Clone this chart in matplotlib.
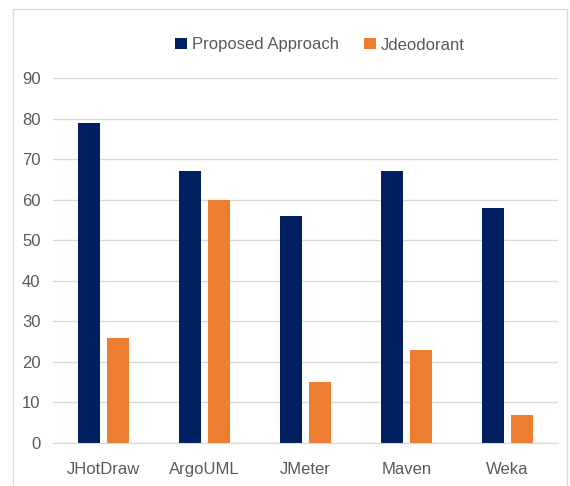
import matplotlib
matplotlib.use("Agg")
import matplotlib.pyplot as plt
import numpy as np
from matplotlib.patches import Rectangle

plt.rcParams['font.family'] = ['Liberation Sans Narrow', 'Liberation Sans', 'DejaVu Sans']

projects = ['JHotDraw', 'ArgoUML', 'JMeter', 'Maven', 'Weka']
proposed = [79, 67, 56, 67, 58]
jdeodorant = [26, 60, 15, 23, 7]

navy = '#002060'
orange = '#ED7D31'
txt = '#595959'

fig = plt.figure(figsize=(5.7, 4.86), dpi=100)
# light frame round the chart area (cut off at the bottom in the original)
fig.patches.append(Rectangle((13 / 570, -0.1), 554 / 570, 1.1 - 9 / 486, transform=fig.transFigure,
                             fill=False, edgecolor='#d9d9d9', linewidth=1))
ax = fig.add_axes([53 / 570, 43 / 486, 505 / 570, 365 / 486])

x = np.arange(len(projects))
w = 0.22
ax.bar(x - 0.14, proposed, w, color=navy, label='Proposed Approach')
ax.bar(x + 0.14, jdeodorant, w, color=orange, label='Jdeodorant')

ax.set_xlim(-0.5, 4.5)
ax.set_ylim(0, 90)
ax.set_yticks(range(0, 91, 10))
ax.set_xticks(x)
ax.set_xticklabels(projects)
ax.grid(axis='y', color='#d9d9d9', linewidth=1)
ax.set_axisbelow(True)
for s in ['top', 'right', 'left']:
    ax.spines[s].set_visible(False)
ax.spines['bottom'].set_color('#d9d9d9')
ax.tick_params(axis='both', length=0, labelsize=12, colors=txt)
ax.tick_params(axis='x', pad=14)
ax.tick_params(axis='y', pad=9)

fig.legend(loc='center', bbox_to_anchor=(320 / 570, 1 - 45 / 486), ncol=2, frameon=False,
           fontsize=12, handlelength=0.7, handleheight=0.7, handletextpad=0.3,
           columnspacing=1.5, labelcolor=txt)

fig.savefig('out.png', dpi=100)
